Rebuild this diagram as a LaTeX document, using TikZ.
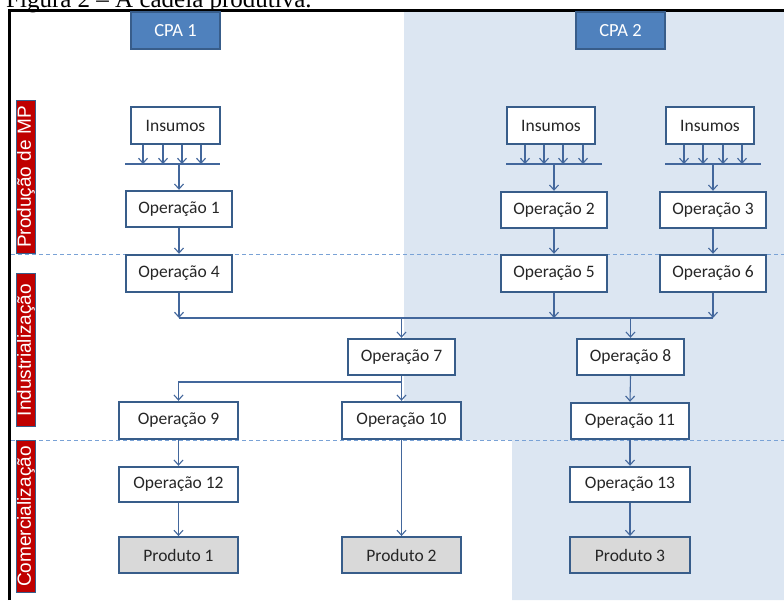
\documentclass[tikz,border=0pt]{standalone}
\usepackage{fontspec}
\usetikzlibrary{arrows.meta}
\newfontfamily\boxfont{Carlito}
\newfontfamily\tagfont{Liberation Sans}
\newfontfamily\capfont{Liberation Serif}
\definecolor{boxline}{HTML}{385D8A}
\definecolor{cpafill}{HTML}{4F81BD}
\definecolor{connline}{HTML}{43679C}
\definecolor{regionfill}{HTML}{DCE6F2}
\definecolor{dashline}{HTML}{79A2D6}
\definecolor{prodfill}{HTML}{D9D9D9}
\definecolor{tagred}{HTML}{C00000}
\definecolor{boxtext}{HTML}{262626}
\tikzset{
  opbox/.style={draw=boxline, line width=2.4pt, fill=white, inner sep=0pt,
    minimum height=36pt, text=boxtext,
    font=\boxfont\fontsize{17.5}{20}\selectfont},
  prodbox/.style={opbox, fill=prodfill, line width=1.9pt},
  cpabox/.style={draw=boxline, line width=1.5pt, fill=cpafill, inner sep=0pt,
    minimum width=89pt, minimum height=37pt, text=white,
    font=\boxfont\fontsize{18.5}{20}\selectfont},
  tagbox/.style={draw=boxline, line width=1.4pt, fill=tagred, inner sep=0pt,
    minimum height=19pt, rotate=90, text=white,
    font=\tagfont\fontsize{19}{20}\selectfont},
  conn/.style={draw=connline, line width=1.1pt,
    -{Straight Barb[length=5pt,width=9pt,line width=1.1pt]}},
  plain/.style={draw=connline, line width=1.1pt},
  phase/.style={draw=dashline, line width=1pt, dash pattern=on 4pt off 3pt},
}
\begin{document}
\begin{tikzpicture}[x=1pt, y=-1pt]
\useasboundingbox (0,0) rectangle (784,600);
\fill[white] (0,0) rectangle (784,600);

% caption above the frame
\node[anchor=base west, inner sep=0pt, font=\capfont\fontsize{25}{28}\selectfont]
  (caption) at (6,7) {Figura 2 – A cadeia produtiva.};

% shaded area of the second chain
\fill[regionfill] (404,11) -- (784,11) -- (784,600) -- (512,600)
  -- (512,440) -- (404,440) -- cycle;

% frame
\draw[black, line width=2.6pt] (9.3,600) -- (9.3,10.3) -- (784,10.3);

% phase separators
\draw[phase] (11,254) -- (784,254);
\draw[phase] (11,440) -- (784,440);

% phase tags
\node[tagbox, minimum width=153pt] (tagmp) at (26,177) {Produção de MP};
\node[tagbox, minimum width=153pt] (tagind) at (26,350) {Industrialização};
\node[tagbox, minimum width=152pt] (tagcom) at (26,516.5) {Comercialização};

% chain headers
\node[cpabox] (cpa1) at (175.5,30.5) {CPA 1};
\node[cpabox] (cpa2) at (620.5,30.5) {CPA 2};

% inputs
\node[opbox, minimum width=89pt, minimum height=37pt] (ins1) at (175.5,125.5) {Insumos};
\node[opbox, minimum width=88pt, minimum height=37pt] (ins2) at (551,125.5) {Insumos};
\node[opbox, minimum width=88pt, minimum height=37pt] (ins3) at (710,125.5) {Insumos};

% operations
\node[opbox, minimum width=106pt] (op1) at (179,209) {Operação 1};
\node[opbox, minimum width=106pt] (op2) at (554,210) {Operação 2};
\node[opbox, minimum width=106pt] (op3) at (713,210) {Operação 3};
\node[opbox, minimum width=106pt, minimum height=37pt] (op4) at (179,273.5) {Operação 4};
\node[opbox, minimum width=106pt, minimum height=37pt] (op5) at (554,273.5) {Operação 5};
\node[opbox, minimum width=106pt, minimum height=37pt] (op6) at (713,273.5) {Operação 6};
\node[opbox, minimum width=107pt] (op7) at (401.5,357) {Operação 7};
\node[opbox, minimum width=107pt] (op8) at (630.5,357) {Operação 8};
\node[opbox, minimum width=119pt, minimum height=37pt] (op9) at (178.5,420.5) {Operação 9};
\node[opbox, minimum width=119pt, minimum height=37pt] (op10) at (401.5,420.5) {Operação 10};
\node[opbox, minimum width=118pt] (op11) at (630,421) {Operação 11};
\node[opbox, minimum width=119pt, minimum height=35pt] (op12) at (178.5,484.5) {Operação 12};
\node[opbox, minimum width=120pt, minimum height=35pt] (op13) at (630,484.5) {Operação 13};

% products
\node[prodbox, minimum width=119pt] (prod1) at (178.5,555) {Produto 1};
\node[prodbox, minimum width=119pt] (prod2) at (401.5,555) {Produto 2};
\node[prodbox, minimum width=120pt] (prod3) at (630,555) {Produto 3};

% input collectors
\coordinate (bar1l) at (125,164);  \coordinate (bar1r) at (220,164);
\coordinate (bar2l) at (506,164);  \coordinate (bar2r) at (602,164);
\coordinate (bar3l) at (665,164);  \coordinate (bar3r) at (761,164);
\draw[plain] (bar1l) -- (bar1r);
\draw[plain] (bar2l) -- (bar2r);
\draw[plain] (bar3l) -- (bar3r);
\foreach \x in {143,163,182,201}
  \draw[conn] (ins1.south -| \x,0) -- (bar1l -| \x,0);
\foreach \x in {525,544,563,583}
  \draw[conn] (ins2.south -| \x,0) -- (bar2l -| \x,0);
\foreach \x in {684,703,723,742}
  \draw[conn] (ins3.south -| \x,0) -- (bar3l -| \x,0);
\draw[conn] (op1.north |- bar1l) -- (op1.north);
\draw[conn] (op2.north |- bar2l) -- (op2.north);
\draw[conn] (op3.north |- bar3l) -- (op3.north);

% raw material flow
\draw[conn] (op1.south) -- (op4.north);
\draw[conn] (op2.south) -- (op5.north);
\draw[conn] (op3.south) -- (op6.north);

% collecting line towards industry
\coordinate (bus) at (0,318);
\draw[plain] (op4.south |- bus) -- (op6.south |- bus);
\draw[conn] (op4.south) -- (op4.south |- bus);
\draw[conn] (op5.south) -- (op5.south |- bus);
\draw[conn] (op6.south) -- (op6.south |- bus);
\draw[conn] (op7.north |- bus) -- (op7.north);
\draw[conn] (op8.north |- bus) -- (op8.north);

% industry
\coordinate (split) at (0,382);
\draw[conn] (op7.south) -- (op10.north);
\draw[conn] (op7.south |- split) -| (op9.north);
\draw[conn] (op8.south) -- (op11.north);

% commerce
\draw[conn] (op9.south) -- (op12.north);
\draw[conn] (op12.south) -- (prod1.north);
\draw[conn] (op10.south) -- (prod2.north);
\draw[conn] (op11.south) -- (op13.north);
\draw[conn] (op13.south) -- (prod3.north);
\end{tikzpicture}
\end{document}
